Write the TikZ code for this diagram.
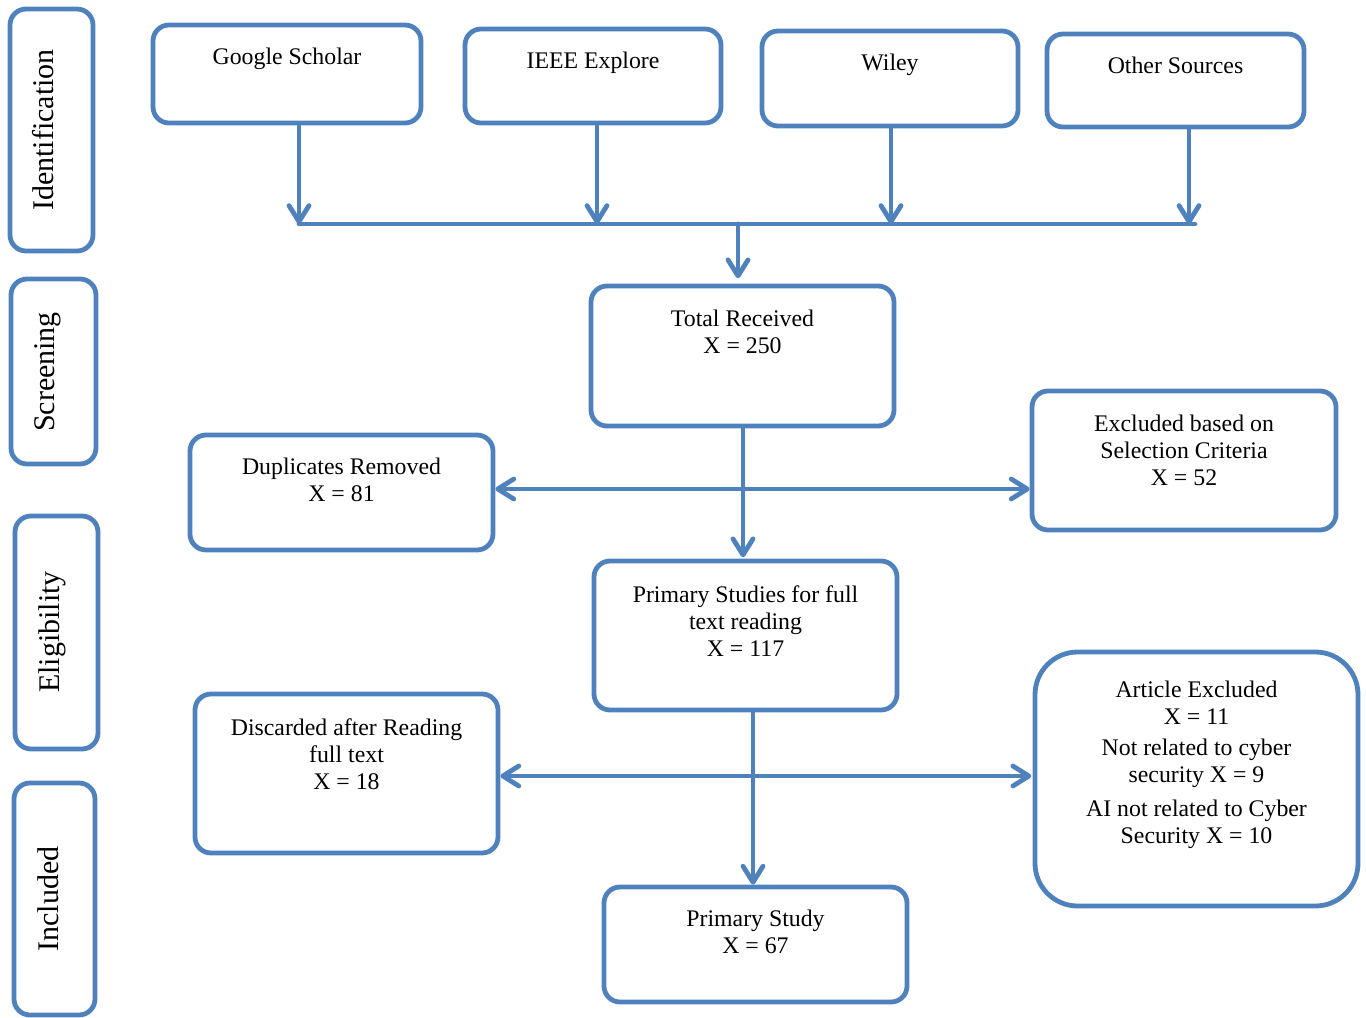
\documentclass[tikz,border=0pt]{standalone}
\usepackage{fontspec}
\setmainfont{Liberation Serif}
\usetikzlibrary{arrows.meta,fit}
\definecolor{flowblue}{RGB}{79,129,189}
\newcommand{\fstrut}{\rule{0pt}{15pt}}
\begin{document}
\begin{tikzpicture}[x=0.75pt,y=-0.75pt,
  box/.style={draw=flowblue, line width=3.6pt, rounded corners=12pt, inner sep=0pt},
  bigbox/.style={box, rounded corners=32pt},
  conn/.style={draw=flowblue, line width=3.6pt, line cap=round},
  arr/.style={conn, -{Straight Barb[length=12pt,width=15pt,round]}},
  txt/.style={font=\fontsize{17.85}{20.25}\selectfont, align=center, inner sep=0pt, anchor=north},
  side/.style={font=\fontsize{22.5}{26}\selectfont, rotate=90, anchor=base, inner sep=0pt}]
\useasboundingbox (0,0) rectangle (1366,1017);

% phase boxes
\node[box, fit={(10,9) (93,251)}] (idb) {};
\node[box, fit={(11,279) (96,464)}] (scb) {};
\node[box, fit={(15,516) (98,749)}] (elb) {};
\node[box, fit={(14,783) (95,1015)}] (inb) {};
\node[side] (idt) at (53,130) {Identification};
\node[side] (sct) at (54,372) {Screening};
\node[side] (elt) at (59,632) {Eligibility};
\node[side] (int) at (58,899) {Included};

% source boxes
\node[box, fit={(153,25) (421,123)}] (gs) {};
\node[box, fit={(465,29) (721,123)}] (ie) {};
\node[box, fit={(762,31) (1018,126)}] (wi) {};
\node[box, fit={(1047,34) (1304,127)}] (os) {};
\node[txt] (gst) at ([yshift=-16pt]gs.north) {\fstrut Google Scholar};
\node[txt] (iet) at ([yshift=-16pt]ie.north) {\fstrut IEEE Explore};
\node[txt] (wit) at ([yshift=-16pt]wi.north) {\fstrut Wiley};
\node[txt] (ost) at ([yshift=-16pt]os.north) {\fstrut Other Sources};

% flow boxes
\node[box, fit={(591,286) (894,426)}] (tr) {};
\node[box, fit={(190,435) (493,550)}] (dup) {};
\node[box, fit={(1032,391) (1336,530)}] (ex) {};
\node[box, fit={(594,561) (897,710)}] (ps) {};
\node[box, fit={(195,694) (498,853)}] (dis) {};
\node[bigbox, fit={(1035,652) (1358,906)}] (ae) {};
\node[box, fit={(604,887) (907,1002)}] (pst) {};

\node[txt] (trt) at ([yshift=-17pt]tr.north) {\fstrut Total Received\\X = 250};
\node[txt] (dupt) at ([yshift=-16.5pt]dup.north) {\fstrut Duplicates Removed\\X = 81};
\node[txt] (ext) at ([yshift=-17pt]ex.north) {\fstrut Excluded based on\\Selection Criteria\\X = 52};
\node[txt] (pst1) at ([yshift=-17.5pt]ps.north) {\fstrut Primary Studies for full\\text reading\\X = 117};
\node[txt] (dist) at ([yshift=-17.5pt]dis.north) {\fstrut Discarded after Reading\\full text\\X = 18};
\node[txt] (aet) at ([yshift=-21pt]ae.north) {\fstrut Article Excluded\\X = 11\\[3pt]Not related to cyber\\security X = 9\\[5pt]AI not related to Cyber\\Security X = 10};
\node[txt] (pstt) at ([yshift=-16.5pt]pst.north) {\fstrut Primary Study\\X = 67};

% junction coordinates
\coordinate (j1) at (299,224);
\coordinate (j2) at (597,224);
\coordinate (j3) at (891,224);
\coordinate (j4) at (1189,224);
\coordinate (jr) at (1195,224);
\coordinate (jm) at (738,224);
\coordinate (m1) at (743,489);
\coordinate (m2) at (753,776);

% connectors
\draw[arr] (gs.south -| j1) -- (j1);
\draw[arr] (ie.south -| j2) -- (j2);
\draw[arr] (wi.south -| j3) -- (j3);
\draw[arr] (os.south -| j4) -- (j4);
\draw[conn] (j1) -- (jr);
\draw[arr, shorten >=4pt] (jm) -- (jm |- tr.north);

\draw[arr, shorten >=1pt] (m1 |- tr.south) -- (m1 |- ps.north);
\draw[arr] (m1) -- (m1 -| dup.east);
\draw[arr] (m1) -- (m1 -| ex.west);

\draw[arr] (m2 |- ps.south) -- (m2 |- pst.north);
\draw[arr] (m2) -- (m2 -| dis.east);
\draw[arr, shorten >=1pt] (m2) -- (m2 -| ae.west);
\end{tikzpicture}
\end{document}
